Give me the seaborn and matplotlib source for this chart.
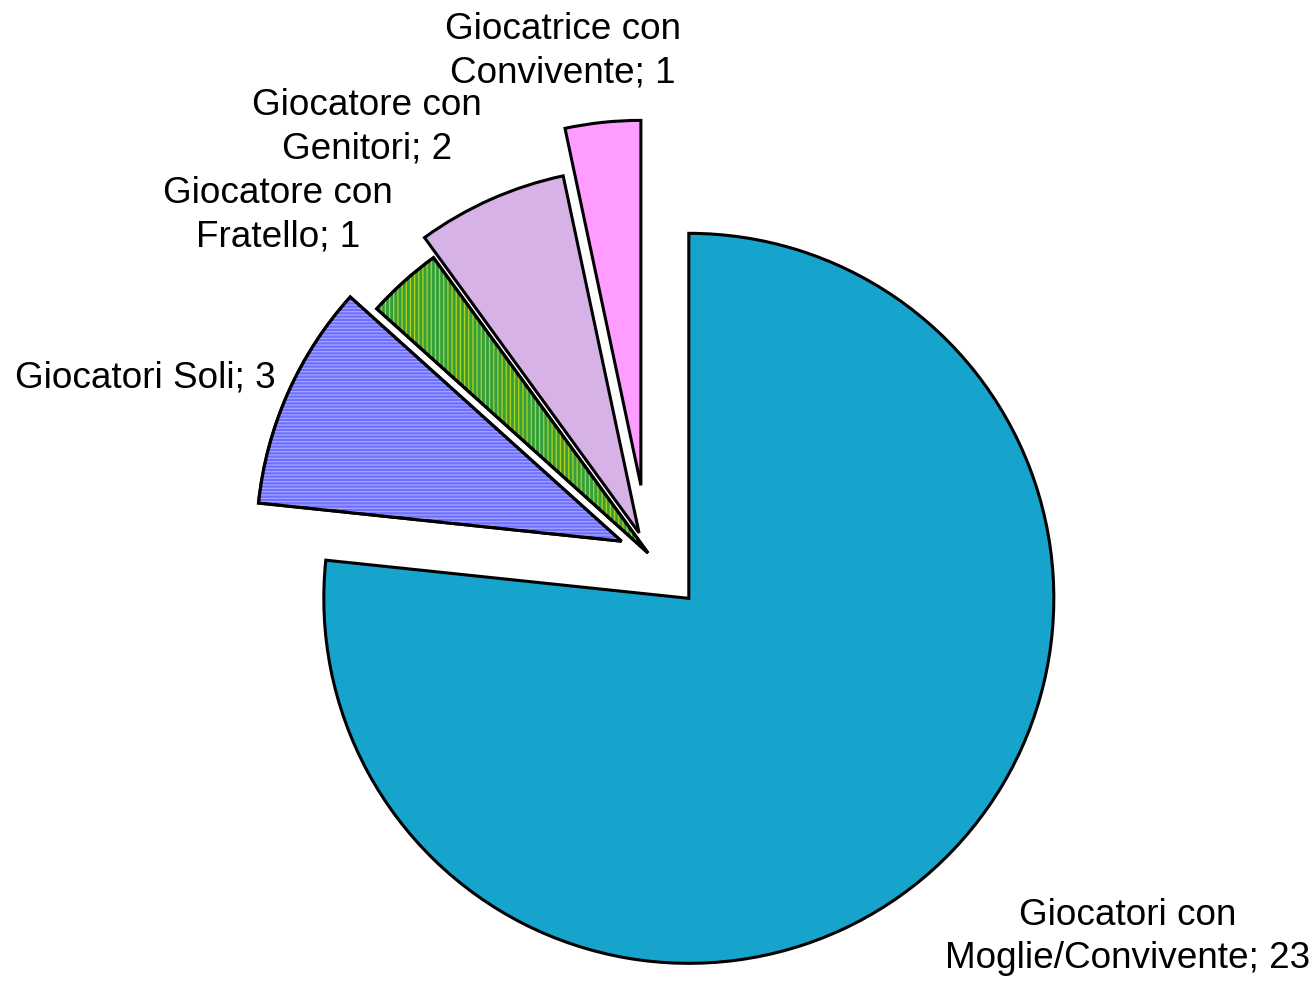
import matplotlib
matplotlib.use("Agg")
import matplotlib.pyplot as plt
from matplotlib.patches import Wedge
import seaborn as sns

# data
categories = ["Giocatori con\nMoglie/Convivente", "Giocatori Soli", "Giocatore con\nFratello",
              "Giocatore con\nGenitori", "Giocatrice con\nConvivente"]
values = [23, 3, 1, 2, 1]

face_colors = ["#16A3CC", "#6E6EFF", "#33A040", "#D7B2E6", "#FF9CFF"]
hatch_colors = ["#33C4D6", "#A4A4FF", "#B8D020", "#E8C8C8", "#FFB0FF"]
hatches = ["", "-----", "||||", "", ""]
explode = [61, 29, 0, 22, 68]  # in pixels (absolute units in pie)

# label positions in pixel coords (x, y from top)
label_pos = [(1128, 937), (145, 378), (278, 215), (367, 127), (563, 51)]

sns.set_style("white")
plt.rcParams['font.family'] = ['Liberation Sans', 'DejaVu Sans']
plt.rcParams['hatch.linewidth'] = 0.9

W, H = 1316, 981
fig = plt.figure(figsize=(W / 100, H / 100), dpi=100)
ax = fig.add_axes([0, 0, 1, 1])

center = (648, H - 553)
radius = 365

wedges, _ = ax.pie(values, explode=explode, startangle=90, counterclock=False,
                   colors=face_colors, center=center, radius=radius, frame=True,
                   wedgeprops=dict(edgecolor="black", linewidth=2.2))

# stripe overlays
for w, hc, h in zip(wedges, hatch_colors, hatches):
    if h:
        z = w.get_zorder()
        ax.add_patch(Wedge(w.center, radius, w.theta1, w.theta2, facecolor="none",
                           edgecolor=hc, linewidth=0, hatch=h, zorder=z + 0.1))
        ax.add_patch(Wedge(w.center, radius, w.theta1, w.theta2, facecolor="none",
                           edgecolor="black", linewidth=2.2, zorder=z + 0.2))

for cat, val, (px, py) in zip(categories, values, label_pos):
    ax.text(px, H - py, f"{cat}; {val}", ha="center", va="center",
            multialignment="center", fontsize=26.6, linespacing=1.33, color="black")

ax.set_xlim(0, W)
ax.set_ylim(0, H)
ax.set_aspect("equal")
ax.axis("off")
fig.savefig("out.png", dpi=100)
